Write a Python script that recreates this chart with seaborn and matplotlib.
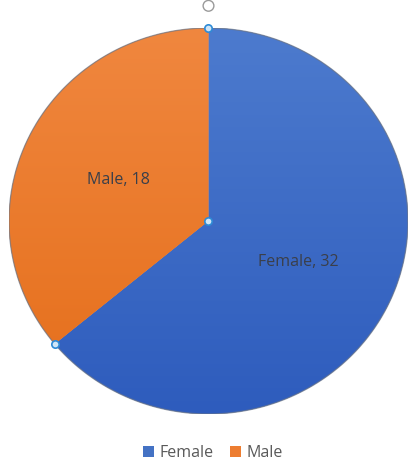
import numpy as np
import matplotlib
matplotlib.use("Agg")
import matplotlib.pyplot as plt
import seaborn as sns
from matplotlib.patches import Patch
from matplotlib.colors import LinearSegmentedColormap

categories = ["Female", "Male"]
values = [32, 18]
colors = ["#4472C4", "#ED7D31"]
light = ["#4D7BCE", "#F0873F"]
dark = ["#2E5CBD", "#E56E1A"]

sns.set_style("white")
plt.rcParams['font.family'] = ['Open Sans', 'DejaVu Sans']

fig = plt.figure(figsize=(4.10, 4.61), dpi=100)
W, H = 410, 461
left, right, top, bottom = 9, 408, 28, 414
ax = fig.add_axes([left / W, (H - bottom) / H, (right - left) / W, (bottom - top) / H])
ax.set_xlim(-1, 1)
ax.set_ylim(-1, 1)
ax.set_aspect('auto')
ax.axis('off')

labels = [f"{c}, {v}" for c, v in zip(categories, values)]
wedges, texts = ax.pie(values, colors=colors, startangle=90, counterclock=False,
                       labels=labels, labeldistance=0.5, radius=1,
                       wedgeprops=dict(linewidth=0, edgecolor='none'))
# vertical gradients inside wedges (light at top, darker at bottom)
grad = np.linspace(0, 1, 256).reshape(-1, 1)
for w, lc, dc in zip(wedges, light, dark):
    cmap = LinearSegmentedColormap.from_list("g", [lc, dc])
    im = ax.imshow(grad, extent=[-1, 1, -1, 1], origin='upper', cmap=cmap, aspect='auto',
                   zorder=w.get_zorder() + 0.1)
    im.set_clip_path(w)
ax.set_xlim(-1, 1)
ax.set_ylim(-1, 1)

for t in texts:
    t.set_horizontalalignment('center')
    t.set_verticalalignment('center')
    t.set_fontsize(11.5)
    t.set_color('#3a3f4a')
    t.set_zorder(5)

# outer edge
theta = np.linspace(0, 2 * np.pi, 400)
ax.plot(np.cos(theta), np.sin(theta), color='#6d7686', lw=0.9, alpha=0.7, zorder=4)

# selection handles
boundary = np.deg2rad(90 - 360 * values[0] / sum(values))
hx = [0, 0, np.cos(boundary)]
hy = [1, 0, np.sin(boundary)]
ax.scatter(hx, hy, s=28, facecolor='#CFE6F8', edgecolor='#2E8BD6', linewidth=1.2, zorder=6, clip_on=False)
ax.scatter([0], [1.115], s=60, facecolor='none', edgecolor='#9a9a9a', linewidth=1.0, zorder=6, clip_on=False)

handles = [Patch(facecolor=c, edgecolor='none') for c in colors]
fig.legend(handles, categories, loc='center', bbox_to_anchor=(213 / W, 1 - 453 / H), ncol=2,
           frameon=False, fontsize=11.5, labelcolor='#595959', handlelength=0.7, handleheight=0.7,
           handletextpad=0.35, columnspacing=1.0, borderpad=0)

fig.savefig("out.png", dpi=100)
